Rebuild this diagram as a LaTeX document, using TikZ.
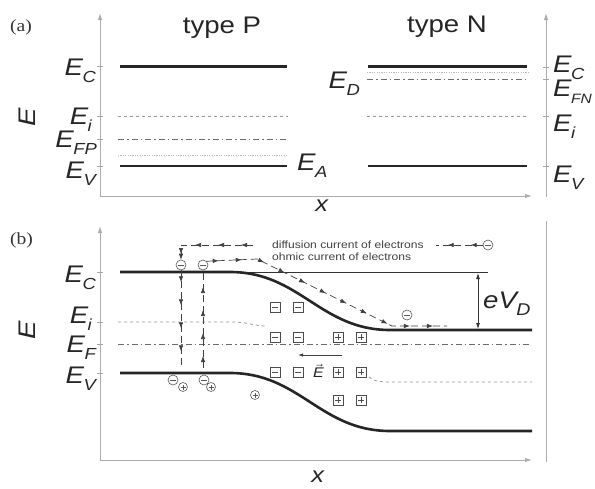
\documentclass[tikz,border=0pt]{standalone}
\usepackage{fontspec}
\usepackage{graphicx}
\setmainfont{Liberation Sans}[FakeStretch=1.15]
\newfontfamily\serifpanel{Liberation Serif}[FakeStretch=1.15]
\usetikzlibrary{arrows.meta,decorations.markings}
\newcommand\El[1]{\textit{E\kern-0.5pt\raisebox{-7pt}{\fontsize{16}{16}\selectfont #1}}}
\begin{document}
\begin{tikzpicture}[x=1pt,y=-1pt,
  big/.style={font=\fontsize{24}{26}\selectfont, inner sep=0pt, text=black!85},
  panel/.style={font=\serifpanel\fontsize{17}{19}\selectfont, inner sep=0pt, text=black!80},
  small/.style={font=\fontsize{10.5}{12}\selectfont, inner sep=0pt, text=black!75},
  band/.style={line width=2.6pt, black!85},
  ax/.style={gray!65, line width=1pt},
  axarr/.style={ax, -{Latex[length=7pt,width=4.5pt]}},
  intr/.style={gray!80, line width=0.8pt, dash pattern=on 3pt off 3pt},
  fermi/.style={gray!85!black, line width=0.8pt, dash pattern=on 6pt off 3pt on 1.5pt off 3pt},
  imp/.style={gray!55, line width=0.8pt, dash pattern=on 1.2pt off 1.2pt},
  tck/.style={gray!70, line width=0.7pt},
  thinl/.style={black!80, line width=0.8pt},
  curr/.style={black!75, line width=0.7pt, dash pattern=on 7pt off 4pt,
    postaction={decorate},
    decoration={markings, mark=between positions 12pt and 1 step 23pt with {\arrow{Latex[length=6pt,width=4.5pt]}}}},
  elec/.style={circle, draw=black!65, line width=0.6pt, minimum size=10pt, inner sep=0pt,
    path picture={\draw[black!65,line width=0.6pt] ([xshift=2pt]path picture bounding box.west) -- ([xshift=-2pt]path picture bounding box.east);}},
  hole/.style={circle, draw=black!65, line width=0.6pt, minimum size=9pt, inner sep=0pt,
    path picture={\draw[black!65,line width=0.6pt] ([xshift=2pt]path picture bounding box.west) -- ([xshift=-2pt]path picture bounding box.east)
      ([yshift=2pt]path picture bounding box.south) -- ([yshift=-2pt]path picture bounding box.north);}},
  acc/.style={rectangle, draw=black!70, line width=0.6pt, minimum size=10pt, inner sep=0pt,
    path picture={\draw[black!70,line width=0.6pt] ([xshift=2pt]path picture bounding box.west) -- ([xshift=-2pt]path picture bounding box.east);}},
  don/.style={rectangle, draw=black!70, line width=0.6pt, minimum size=10pt, inner sep=0pt,
    path picture={\draw[black!70,line width=0.6pt] ([xshift=2pt]path picture bounding box.west) -- ([xshift=-2pt]path picture bounding box.east)
      ([yshift=2pt]path picture bounding box.south) -- ([yshift=-2pt]path picture bounding box.north);}}
]
\useasboundingbox[fill=white] (0,0) rectangle (595,488);

% ================= panel (a) =================
\node[panel, anchor=base west] (la) at (10,31) {(a)};
\node[big, anchor=base] (tP) at (222,33) {type P};
\node[big, anchor=base] (tN) at (447,32) {type N};
\node[big] (Ea) at (27,117.5) {\rotatebox{90}{\textit{E}}};

\draw[axarr] (100,197) -- (100,13);
\draw[axarr] (100,196) -- (532,196);
\draw[axarr] (546,197) -- (546,13);
\node[big, anchor=base, font=\fontsize{22}{24}\selectfont] (xa) at (322,211) {\textit{x}};

% ticks
\foreach \yy in {66.5,116,139,166} \draw[tck] (97,\yy) -- (103,\yy);
\foreach \yy in {67,79,116,166} \draw[tck] (543,\yy) -- (549,\yy);

% P side
\draw[intr] (118,116) -- (288,116);
\draw[fermi] (118,139) -- (288,139);
\draw[imp] (118,155) -- (288,155);
\draw[band] (120,66.5) -- (287,66.5);
\draw[band] (120,166) -- (287,166);
% N side
\draw[imp] (367,72) -- (528,72);
\draw[fermi] (367,79) -- (528,79);
\draw[intr] (367,116) -- (528,116);
\draw[band] (368,66.5) -- (527,66.5);
\draw[band] (368,166) -- (527,166);

% labels (a)
\node[big, anchor=base east] (aEC) at (96,75) {\El{C}};
\node[big, anchor=base east] (aEi) at (92,124) {\El{i}};
\node[big, anchor=base east] (aEF) at (97,147) {\El{FP}};
\node[big, anchor=base east] (aEV) at (96,178) {\El{V}};
\node[big, anchor=base west] (aEA) at (297,170) {\El{A}};
\node[big, anchor=base east] (aED) at (360,88) {\El{D}};
\node[big, anchor=base west] (bEC) at (553,72) {\El{C}};
\node[big, anchor=base west] (bEF) at (553,96) {\textit{E\kern-0.5pt\raisebox{-7pt}{\fontsize{13.5}{14}\selectfont FN}}};
\node[big, anchor=base west] (bEi) at (553,131) {\El{i}};
\node[big, anchor=base west] (bEV) at (553,182) {\El{V}};

% ================= panel (b) =================
\node[panel, anchor=base west] (lb) at (10,244) {(b)};
\node[big] (Eb) at (27,330) {\rotatebox{90}{\textit{E}}};
\draw[axarr] (100,461) -- (100,226);
\draw[axarr] (100,460) -- (532,460);
\draw[ax] (546,462) -- (546,221);
\node[big, anchor=base, font=\fontsize{22}{24}\selectfont] (xb) at (318,482) {\textit{x}};

\foreach \yy in {272,322,344,373} \draw[tck] (97,\yy) -- (103,\yy);

\node[big, anchor=base east] (cEC) at (96,282) {\El{C}};
\node[big, anchor=base east] (cEi) at (92,323) {\El{i}};
\node[big, anchor=base east] (cEF) at (96,352) {\El{F}};
\node[big, anchor=base east] (cEV) at (96,383) {\El{V}};

% levels
\draw[fermi] (118,344) -- (532,344);
\draw[intr] (118,322) -- (232,322) .. controls (248,322) and (255,326) .. (265,326);
\draw[intr] (369,377) .. controls (375,381) .. (386,382) -- (532,382);
\draw[thinl] (230,272) -- (488,272);
\draw[band] (120,272) -- (230,272) .. controls (300,272) and (320,330) .. (390,330) -- (532,330);
\draw[band] (120,373) -- (230,373) .. controls (300,373) and (320,431) .. (390,431) -- (532,431);

% eV_D
\coordinate (vt) at (478,273);
\coordinate (vb) at (478,329);
\draw[thinl, {Latex[length=6pt,width=4pt]}-{Latex[length=6pt,width=4pt]}] (vt) -- (vb);
\node[big, anchor=base west] (eVD) at (483,308) {\textit{eV\kern-0.5pt\raisebox{-7pt}{\fontsize{17}{17}\selectfont D}}};

% carriers
\node[elec] (n1) at (181,265) {};
\node[elec] (n2) at (203,265) {};
\node[elec] (n3) at (488,245) {};
\node[elec] (n4) at (407,315) {};
\node[elec] (p1e) at (173,380) {};
\node[hole] (p1h) at (183,387) {};
\node[elec] (p2e) at (204,380) {};
\node[hole] (p2h) at (211,387) {};
\node[hole] (h3) at (255,395) {};

% ionized impurities
\node[acc] (a1) at (275,307) {};
\node[acc] (a2) at (298,307) {};
\node[acc] (a3) at (275,337) {};
\node[acc] (a4) at (298,337) {};
\node[acc] (a5) at (275,372) {};
\node[acc] (a6) at (298,372) {};
\node[don] (d1) at (338,337) {};
\node[don] (d2) at (361,337) {};
\node[don] (d3) at (338,372) {};
\node[don] (d4) at (361,372) {};
\node[don] (d5) at (338,400) {};
\node[don] (d6) at (361,400) {};

% field
\coordinate (fs) at (342,355);
\coordinate (fe) at (298,355);
\draw[black!75, line width=0.8pt, -{Latex[length=5pt,width=3.5pt]}] (fs) -- (fe);
\node[inner sep=0pt, font=\fontsize{14}{15}\selectfont, text=black!85] (Ef) at (318.5,371) {$\vec{\textit{E}}$};

% currents
\node[small, anchor=west] (dif) at (272,245) {diffusion current of electrons};
\node[small, anchor=west] (ohm) at (272,257) {ohmic current of electrons};
\coordinate (dr) at (436,245);
\coordinate (dl1) at (253,245);
\coordinate (dl2) at (181,245);
\draw[curr] (n3.west) -- (dr);
\draw[curr, -{Latex[length=6pt,width=4.5pt]}] (dl1) -- (dl2) -- (n1.north);
\draw[curr] (n1.south) -- (181,368);
\draw[curr] (203,368) -- (n2.south);
\coordinate (o1) at (257,259);
\coordinate (o2) at (392,326);
\coordinate (o3) at (447,326);
\draw[curr] (n2.north east) -- (o1) -- (o2) -- (o3);
\end{tikzpicture}
\end{document}
